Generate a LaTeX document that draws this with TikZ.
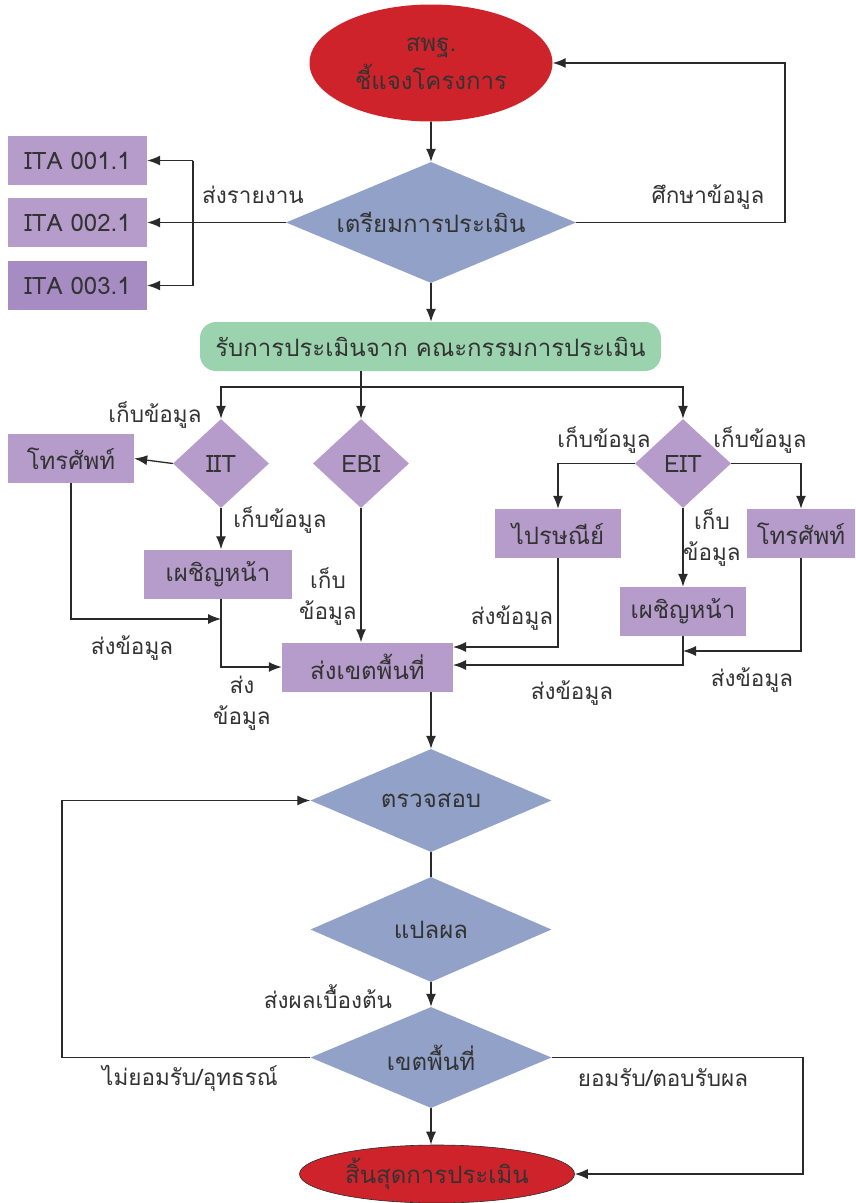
\documentclass[tikz,border=0pt]{standalone}
\usepackage{fontspec}
\setmainfont[Script=Thai]{Loma}
\usetikzlibrary{shapes.geometric,arrows.meta}
\definecolor{cred}{HTML}{CF232B}
\definecolor{cblue}{HTML}{92A1C8}
\definecolor{cpurp}{HTML}{B69CCB}
\definecolor{cpurpd}{HTML}{A68CC2}
\definecolor{cgreen}{HTML}{9BD3AE}
\definecolor{ctext}{HTML}{333333}
\definecolor{cline}{HTML}{2A2A2A}
\begin{document}
\begin{tikzpicture}[x=1pt,y=-1pt,
  bigfont/.style={font=\fontsize{24}{38}\selectfont},
  box/.style={rectangle, fill=cpurp, inner sep=0pt, text=ctext, bigfont},
  dia/.style={diamond, fill=cblue, inner sep=0pt, text=ctext, bigfont},
  pdia/.style={diamond, fill=cpurp, inner sep=0pt, text=ctext, bigfont, aspect=1.08},
  lbl/.style={text=ctext, font=\fontsize{22.5}{31}\selectfont, inner sep=0pt, align=center},
  line/.style={draw=cline, line width=1.3pt},
  arr/.style={line, -{Latex[length=13pt,width=10pt]}}]
\useasboundingbox (0,0) rectangle (855,1203);

% nodes
\node[ellipse, fill=cred, text=ctext, bigfont, align=center, inner sep=0pt,
  minimum width=243, minimum height=117] (start) at (431,63) {สพฐ.\\ชี้แจงโครงการ};
\node[dia, aspect=2.4, minimum width=290, minimum height=121] (prep) at (431,222.5) {เตรียมการประเมิน};
\node[box, minimum width=139, minimum height=49] (ita1) at (77.5,160.5) {ITA 001.1};
\node[box, minimum width=139, minimum height=49] (ita2) at (77.5,222.5) {ITA 002.1};
\node[box, fill=cpurpd, minimum width=139, minimum height=49] (ita3) at (77.5,285.5) {ITA 003.1};
\node[box, fill=cgreen, rounded corners=16, minimum width=461, minimum height=49] (green) at (430.5,346.5) {รับการประเมินจาก คณะกรรมการประเมิน};

\node[pdia, minimum width=96, minimum height=89] (iit) at (221,463.5) {IIT};
\node[pdia, minimum width=96, minimum height=89] (ebi) at (361,463.5) {EBI};
\node[pdia, minimum width=96, minimum height=89] (eit) at (683,463.5) {EIT};

\node[box, minimum width=126, minimum height=49] (tel1) at (71,458.5) {โทรศัพท์};
\node[box, minimum width=148, minimum height=49] (face1) at (218,574) {เผชิญหน้า};
\node[box, minimum width=171, minimum height=49] (send) at (367.5,667) {ส่งเขตพื้นที่};
\node[box, minimum width=126, minimum height=49] (post) at (558,533.5) {ไปรษณีย์};
\node[box, minimum width=108, minimum height=49] (tel2) at (801,533.5) {โทรศัพท์};
\node[box, minimum width=126, minimum height=49] (face2) at (683,611.5) {เผชิญหน้า};

\node[dia, aspect=2.34, minimum width=241, minimum height=103] (check) at (431,800.5) {ตรวจสอบ};
\node[dia, aspect=2.3, minimum width=241, minimum height=105] (interp) at (431,929.5) {แปลผล};
\node[dia, aspect=2.38, minimum width=241, minimum height=101] (area) at (431,1057.5) {เขตพื้นที่};
\node[ellipse, fill=cred, draw=cline, line width=0.6pt, text=ctext, bigfont, inner sep=0pt,
  minimum width=275, minimum height=58] (endn) at (437,1174) {สิ้นสุดการประเมิน};

% helper coordinates
\coordinate (c1) at (785,63);
\coordinate (j1) at (193,160.5);
\coordinate (j3) at (193,285.5);
\coordinate (bus) at (361,387);
\coordinate (m1) at (221,619);
\coordinate (s1) at (453,647);
\coordinate (s2) at (453,665);
\coordinate (s3) at (683,651);
\coordinate (l1) at (62,1057.5);
\coordinate (r1) at (803,1057.5);

% connectors
\draw[arr] (start.south) -- (prep.north);
\draw[arr] (prep.east) -| (c1) -- (start.east);
\draw[arr] (prep.west) -- (ita2.east);
\draw[line] (j1) -- (j3);
\draw[arr] (j1) -- (ita1.east);
\draw[arr] (j3) -- (ita3.east);
\draw[arr] (prep.south) -- (prep.south |- green.north);
\draw[line] (green.south -| bus) -- (bus);
\draw[arr] (bus) -| (iit.north);
\draw[arr] (bus) -| (eit.north);
\draw[arr] (bus) -- (ebi.north);
\draw[arr] (iit.west) -- (tel1.east);
\draw[arr] (iit.south) -- (iit.south |- face1.north);
\draw[arr] (tel1.south) |- (m1);
\draw[arr] (iit.south |- face1.south) |- (send.west);
\draw[arr] (ebi.south) -- (ebi.south |- send.north);
\draw[arr] (eit.west) -| (post.north);
\draw[arr] (eit.east) -| (tel2.north);
\draw[arr] (eit.south) -- (face2.north);
\draw[arr] (post.south) |- (s1);
\draw[arr] (face2.south) |- (s2);
\draw[arr] (tel2.south) |- (s3);
\draw[arr] (check.north |- send.south) -- (check.north);
\draw[line] (check.south) -- (interp.north);
\draw[arr] (interp.south) -- (area.north);
\draw[arr] (area.west) -- (l1) |- (check.west);
\draw[arr] (area.east) -- (r1) |- (endn.east);
\draw[arr] (area.south) -- (area.south |- endn.north);

% labels
\node[lbl] (t1) at (708,197) {ศึกษาข้อมูล};
\node[lbl] (t2) at (253,195) {ส่งรายงาน};
\node[lbl] (t3) at (155,415) {เก็บข้อมูล};
\node[lbl] (t4) at (280,520) {เก็บข้อมูล};
\node[lbl] (t5) at (132,648) {ส่งข้อมูล};
\node[lbl] (t6) at (242,703) {ส่ง\\ข้อมูล};
\node[lbl] (t7) at (328,597) {เก็บ\\ข้อมูล};
\node[lbl] (t8) at (604,440) {เก็บข้อมูล};
\node[lbl] (t9) at (760,440) {เก็บข้อมูล};
\node[lbl] (t10) at (712,538) {เก็บ\\ข้อมูล};
\node[lbl] (t11) at (512,618) {ส่งข้อมูล};
\node[lbl] (t12) at (572,693) {ส่งข้อมูล};
\node[lbl] (t13) at (752,680) {ส่งข้อมูล};
\node[lbl] (t14) at (328,997) {ส่งผลเบื้องต้น};
\node[lbl] (t15) at (190,1078) {ไม่ยอมรับ/อุทธรณ์};
\node[lbl] (t16) at (663,1078) {ยอมรับ/ตอบรับผล};
\end{tikzpicture}
\end{document}
